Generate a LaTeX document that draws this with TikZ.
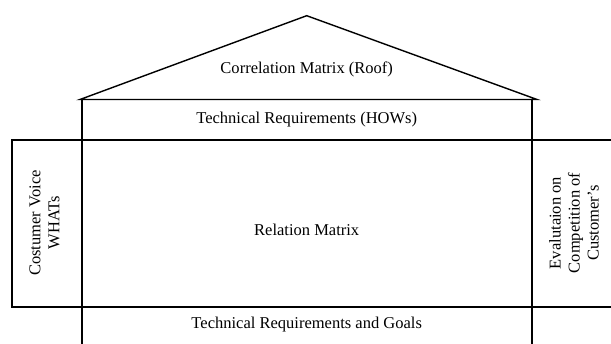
\documentclass[tikz,border=0pt]{standalone}
\usepackage{fontspec}
\setmainfont{Liberation Serif}
\begin{document}
\begin{tikzpicture}[x=0.02cm,y=-0.02cm,line width=1pt]
  \tikzset{lbl/.style={font=\fontsize{9.4}{10.8}\selectfont,align=center,inner sep=0pt}}
  \useasboundingbox (0,0) rectangle (611,344);
  % roof
  \draw[line width=0.8pt] (80,99.5) -- (306.7,15.7) -- (537,99.5) -- cycle;
  % walls
  \foreach \x in {81.7,531.7} {\draw (\x,99.5)--(\x,344);}
  \draw (611,140) -- (11.7,140) -- (11.7,307) -- (611,307);
  \node[lbl] (roof) at (306.7,69) {Correlation Matrix (Roof)};
  \node[lbl] (hows) at (306.7,120) {Technical Requirements (HOWs)};
  \node[lbl] (rel) at (306.7,230) {Relation Matrix};
  \node[lbl] (goals) at (306.7,325) {Technical Requirements and Goals};
  \node[lbl,rotate=90] (whats) at (44.5,223) {Costumer Voice\\WHATs};
  \node[lbl,rotate=90] (eval) at (574,223) {Evalutaion on\\Competition of\\Customer’s};
\end{tikzpicture}
\end{document}
